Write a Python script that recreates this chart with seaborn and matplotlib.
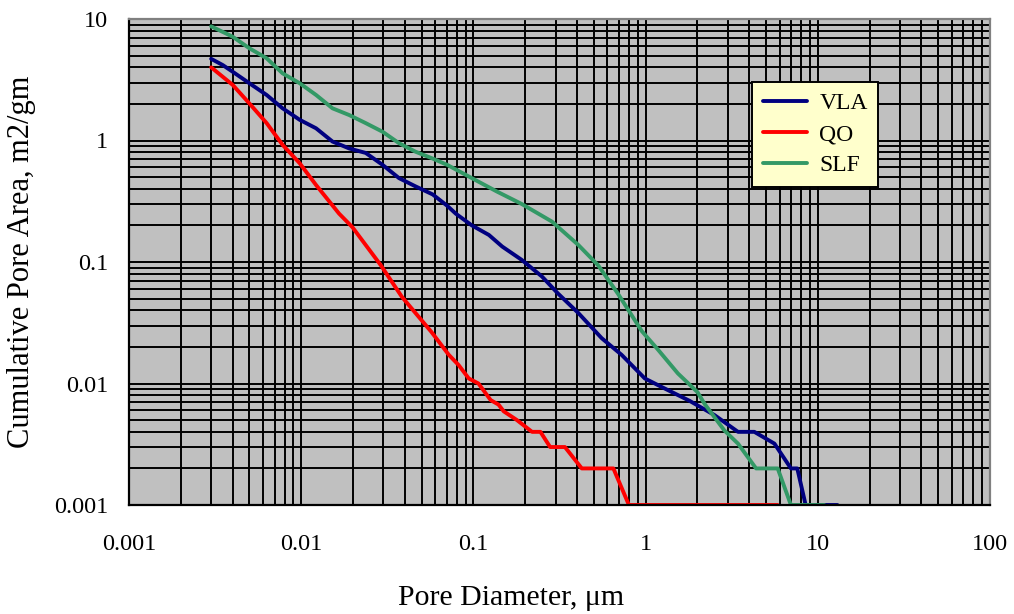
import numpy as np
import pandas as pd
import matplotlib
matplotlib.use("Agg")
import matplotlib.pyplot as plt
import seaborn as sns
from matplotlib.ticker import LogLocator, NullFormatter, FixedLocator, FixedFormatter

# ---- data ----
vla_x = [0.003, 0.0035, 0.004, 0.005, 0.0063, 0.0078, 0.0098, 0.0122, 0.0152, 0.019, 0.0237,
         0.0297, 0.037, 0.046, 0.058, 0.0705, 0.079, 0.098, 0.123, 0.147, 0.191, 0.25, 0.31,
         0.407, 0.556, 0.726, 0.99, 1.29, 1.8, 2.51, 3.44, 4.28, 5.6, 6.98, 7.6, 8.5, 13.0]
vla_y = [4.7, 4.18, 3.68, 2.96, 2.37, 1.84, 1.48, 1.26, 0.98, 0.86, 0.79,
         0.63, 0.49, 0.42, 0.36, 0.29, 0.25, 0.20, 0.167, 0.134, 0.104, 0.076, 0.055,
         0.038, 0.0236, 0.0172, 0.011, 0.0091, 0.0072, 0.0055, 0.004, 0.004, 0.0032, 0.002, 0.002, 0.001, 0.001]

qo_x = [0.003, 0.004, 0.005, 0.0063, 0.0078, 0.0098, 0.0122, 0.0166, 0.0198, 0.029, 0.0385,
        0.057, 0.072, 0.082, 0.094, 0.107, 0.126, 0.14, 0.15, 0.179, 0.219, 0.245, 0.279,
        0.34, 0.426, 0.65, 0.8, 5.85]
qo_y = [4.0, 2.87, 2.02, 1.39, 0.92, 0.65, 0.43, 0.25, 0.194, 0.094, 0.0515,
        0.0266, 0.0172, 0.0142, 0.011, 0.010, 0.0073, 0.0067, 0.0059, 0.005, 0.004, 0.004, 0.003,
        0.003, 0.002, 0.002, 0.001, 0.001]

slf_x = [0.003, 0.004, 0.005, 0.0063, 0.0078, 0.0098, 0.0122, 0.0152, 0.019, 0.0237, 0.0297,
         0.037, 0.046, 0.058, 0.0705, 0.098, 0.137, 0.191, 0.286, 0.407, 0.53, 0.69, 0.95,
         1.18, 1.54, 2.0, 2.2, 2.87, 3.44, 4.38, 5.85, 6.98, 10.9]
slf_y = [8.7, 7.15, 5.74, 4.75, 3.57, 2.96, 2.37, 1.84, 1.62, 1.39, 1.18,
         0.95, 0.81, 0.71, 0.63, 0.49, 0.38, 0.30, 0.215, 0.138, 0.094, 0.055, 0.027,
         0.019, 0.0121, 0.0085, 0.0068, 0.0041, 0.0032, 0.002, 0.002, 0.001, 0.001]

series_names = ["VLA", "QO", "SLF"]
series_colors = ["#000080", "#FF0000", "#339966"]

x_ticks = [0.001, 0.01, 0.1, 1, 10, 100]
x_tick_labels = ["0.001", "0.01", "0.1", "1", "10", "100"]
y_ticks = [0.001, 0.01, 0.1, 1, 10]
y_tick_labels = ["0.001", "0.01", "0.1", "1", "10"]

x_label = "Pore Diameter, \u03bcm"
y_label = "Cumulative Pore Area, m2/gm"

# ---- build long table ----
frames = []
for name, xs, ys in zip(series_names, [vla_x, qo_x, slf_x], [vla_y, qo_y, slf_y]):
    frames.append(pd.DataFrame({"x": xs, "y": ys, "series": name}))
df = pd.concat(frames, ignore_index=True)

sns.set_theme(style="white")
plt.rcParams["font.family"] = ["Liberation Serif", "DejaVu Serif"]
plt.rcParams["text.color"] = "black"
plt.rcParams["axes.labelcolor"] = "black"

fig = plt.figure(figsize=(10.14, 6.14), dpi=100)
ax = fig.add_axes([129 / 1014, 1 - 505 / 614, (990 - 129) / 1014, (505 - 19) / 614])
ax.set_facecolor("#C0C0C0")

for name, color in zip(series_names, series_colors):
    sub = df[df["series"] == name]
    sns.lineplot(data=sub, x="x", y="y", ax=ax, color=color, linewidth=2.8,
                 sort=False, estimator=None, label=name)

ax.set_xscale("log")
ax.set_yscale("log")
ax.set_xlim(0.001, 100)
ax.set_ylim(0.001, 10)

ax.xaxis.set_major_locator(FixedLocator(x_ticks))
ax.xaxis.set_major_formatter(FixedFormatter(x_tick_labels))
ax.yaxis.set_major_locator(FixedLocator(y_ticks))
ax.yaxis.set_major_formatter(FixedFormatter(y_tick_labels))
ax.xaxis.set_minor_locator(LogLocator(base=10, subs=np.arange(2, 10), numticks=20))
ax.yaxis.set_minor_locator(LogLocator(base=10, subs=np.arange(2, 10), numticks=20))
ax.xaxis.set_minor_formatter(NullFormatter())
ax.yaxis.set_minor_formatter(NullFormatter())

ax.grid(True, which="both", color="black", linewidth=1.4)
ax.set_axisbelow(True)

ax.tick_params(axis="x", which="major", direction="in", length=5, width=1.5,
               pad=21, labelsize=17.5, colors="black")
ax.tick_params(axis="y", which="major", direction="in", length=5, width=1.5,
               pad=15, labelsize=17.5, colors="black")
ax.tick_params(which="minor", direction="in", length=3, width=1.2)

for side in ["left", "bottom"]:
    ax.spines[side].set_color("black")
    ax.spines[side].set_linewidth(1.6)
for side in ["top", "right"]:
    ax.spines[side].set_color("#808080")
    ax.spines[side].set_linewidth(1.6)

ax.set_xlabel(x_label, fontsize=21.5, color="black")
ax.set_ylabel(y_label, fontsize=22, color="black")
ax.xaxis.set_label_coords((511 - 129) / 861, -(598 - 505) / 486)
ax.xaxis.label.set_va("center")
ax.yaxis.set_label_coords(-(129 - 22) / 861, 0.5)
ax.yaxis.label.set_va("center")

leg = ax.legend(loc="upper left", bbox_to_anchor=((752 - 129) / 861, (505 - 82) / 486),
                frameon=True, fancybox=False, facecolor="#FFFFCC", edgecolor="black",
                framealpha=1, prop={"family": "Liberation Serif", "size": 17},
                handlelength=1.9, labelspacing=0.4,
                borderpad=0.45, handletextpad=0.5, borderaxespad=0)
leg.get_frame().set_linewidth(1.4)
for t in leg.get_texts():
    t.set_color("black")

fig.savefig("out.png", dpi=100, facecolor="white")
